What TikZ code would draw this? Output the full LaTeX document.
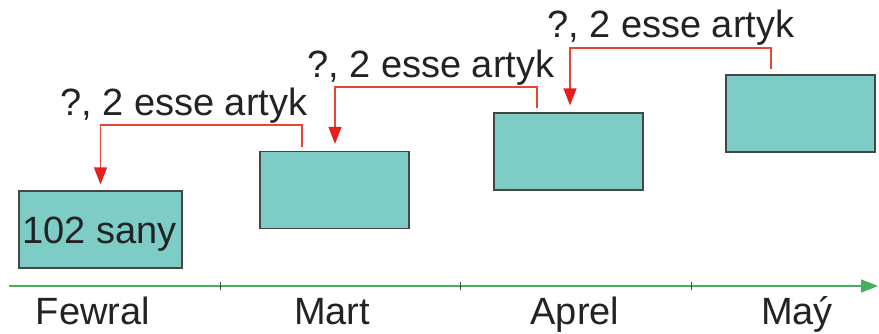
\documentclass[tikz,border=0pt]{standalone}
\usepackage{fontspec}
\setmainfont{Liberation Sans}
\usetikzlibrary{arrows.meta}
\definecolor{boxfill}{RGB}{126,204,198}
\definecolor{boxline}{RGB}{70,70,70}
\definecolor{conred}{RGB}{228,70,50}
\definecolor{tipred}{RGB}{230,30,30}
\definecolor{axgreen}{RGB}{70,175,90}
\definecolor{txt}{RGB}{35,35,35}
\begin{document}
\begin{tikzpicture}[x=1pt,y=1pt,
  monthbox/.style={draw=boxline,line width=1.3pt,fill=boxfill,minimum height=77pt,inner sep=0pt},
  conn/.style={draw=conred,line width=1.4pt,-{Triangle[width=13pt,length=17pt,color=tipred]}},
  lbl/.style={font=\fontsize{38}{40}\selectfont,text=txt,inner sep=0pt},
  tick/.style={draw=boxline,line width=1pt}]
\useasboundingbox (0,0) rectangle (879,333);
% axis
\coordinate (ax0) at (9,47);
\coordinate (ax1) at (878,47);
\draw[draw=axgreen,line width=1.6pt,-{Triangle[width=13pt,length=17pt]}] (ax0) -- (ax1);
\foreach \tx in {220,460,691} \draw[tick] (\tx,43) -- (\tx,51);
% boxes
\node[monthbox,minimum width=163pt] (b1) at (100.5,103.5) {};
\node[monthbox,minimum width=149pt] (b2) at (334.5,143) {};
\node[monthbox,minimum width=149pt] (b3) at (568.5,181.5) {};
\node[monthbox,minimum width=149pt] (b4) at (800.5,219.5) {};
\node[lbl,anchor=base west] (t1) at (22,90) {102 sany};
% connectors
\coordinate (s1) at ([xshift=-32.5pt,yshift=4pt]b2.north);
\coordinate (e1) at ([yshift=6pt]b1.north);
\draw[conn] (s1) -- (302,208) -| (e1);
\coordinate (s2) at ([xshift=-31.5pt,yshift=4pt]b3.north);
\coordinate (e2) at ([xshift=0.5pt,yshift=7pt]b2.north);
\draw[conn] (s2) -- (537,246) -| (e2);
\coordinate (s3) at ([xshift=-29.5pt,yshift=5pt]b4.north);
\coordinate (e3) at ([xshift=1.5pt,yshift=7pt]b3.north);
\draw[conn] (s3) -- (771,285) -| (e3);
% labels
\node[lbl,anchor=base west] (l1) at (60,218) {?, 2 esse artyk};
\node[lbl,anchor=base west] (l2) at (307,256) {?, 2 esse artyk};
\node[lbl,anchor=base west] (l3) at (547,296) {?, 2 esse artyk};
% months
\node[lbl,anchor=base] (m1) at (93,8.5) {Fewral};
\node[lbl,anchor=base] (m2) at (332,8.5) {Mart};
\node[lbl,anchor=base] (m3) at (575,8.5) {Aprel};
\node[lbl,anchor=base] (m4) at (797,8.5) {Maý};
\end{tikzpicture}
\end{document}
